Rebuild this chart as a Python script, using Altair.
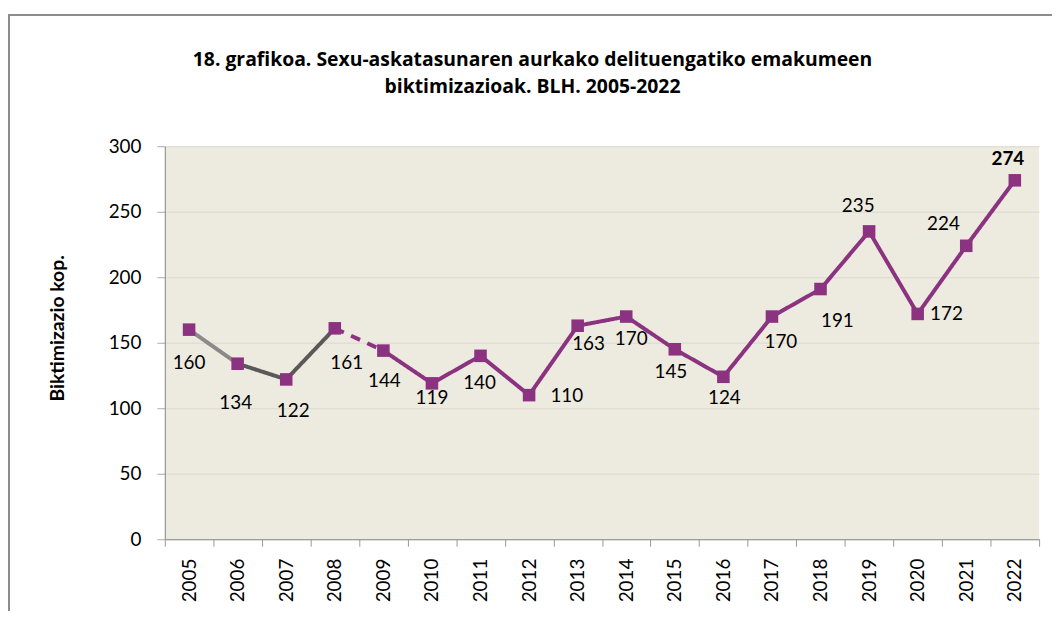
import altair as alt
import pandas as pd

# ---- data ----
years = [str(y) for y in range(2005, 2023)]
values = [160, 134, 122, 161, 144, 119, 140, 110, 163, 170, 145, 124, 170, 191, 235, 172, 224, 274]

# line segments: (from index, to index, style)
segments = [(0, 1, "light"), (1, 3, "dark"), (3, 4, "dashed"), (4, 17, "main")]

# label offsets (style), per point
label_dx = [0, -2, 7, 12, 1, 0, -1, 38, 11, 5, -4, 1, 9, 17, -11, 29, -23, -7]
label_dy = [34, 40, 32, 35, 31, 15, 27, 1, 18, 23, 23, 21, 26, 32, -26, 0, -22, -21]

PURPLE = "#8B3380"
FONT = "Lato"

df = pd.DataFrame({"year": years, "value": values})

rows = []
for k, (a, b, style) in enumerate(segments):
    for i in range(a, b + 1):
        rows.append({"year": years[i], "value": values[i], "seg": k, "style": style})
seg_df = pd.DataFrame(rows)

x = alt.X("year:N", sort=years, title=None,
          scale=alt.Scale(paddingInner=0, paddingOuter=0),
          axis=alt.Axis(labelAngle=-90, labelFont=FONT, labelFontSize=19, labelColor="#000",
                        tickBand="extent", tickColor="#999", tickSize=7, domainColor="#888",
                        labelPadding=12, grid=False, labelAlign="right", labelBaseline="middle"))
y = alt.Y("value:Q", title="Biktimizazio kop.",
          scale=alt.Scale(domain=[0, 300], nice=False),
          axis=alt.Axis(values=[0, 50, 100, 150, 200, 250, 300], labelFont=FONT, labelFontSize=19,
                        labelColor="#000", tickColor="#aaa", tickSize=8, domainColor="#888",
                        gridColor="#dcdad2", labelPadding=16,
                        titleFont=FONT, titleFontSize=19.5, titleFontWeight="bold", titleColor="#000",
                        titleX=-98, titleY=183, titleAlign="center"))

lines = alt.Chart(seg_df).mark_line(strokeWidth=4).encode(
    x=x, y=y, detail="seg:N",
    color=alt.Color("style:N", legend=None,
                    scale=alt.Scale(domain=["light", "dark", "dashed", "main"],
                                    range=["#8a8a8a", "#595959", PURPLE, PURPLE])),
    strokeDash=alt.StrokeDash("style:N", legend=None,
                              scale=alt.Scale(domain=["light", "dark", "dashed", "main"],
                                              range=[[1, 0], [1, 0], [10, 8], [1, 0]])),
)

points = alt.Chart(df).mark_point(shape="square", filled=True, size=160, opacity=1,
                                  color=PURPLE).encode(x=x, y=y)

text_layers = []
for i, yr in enumerate(years):
    text_layers.append(
        alt.Chart(df).transform_filter(alt.datum.year == yr).mark_text(
            font=FONT, fontSize=19, color="#000",
            fontWeight="bold" if i == len(years) - 1 else "normal",
            dx=label_dx[i], dy=label_dy[i]
        ).encode(x=x, y=y, text="value:Q")
    )

frame = alt.Chart(df).mark_rect(fill=None, stroke="#8c8c8c", strokeWidth=1.5, clip=False).encode(
    x=alt.value(-157), x2=alt.value(900), y=alt.value(-132), y2=alt.value(520)
)

chart = alt.layer(frame, lines, points, *text_layers).properties(
    width=881, height=396,
    title=alt.TitleParams(
        text=["18. grafikoa. Sexu-askatasunaren aurkako delituengatiko emakumeen",
              "biktimizazioak. BLH. 2005-2022"],
        font="Open Sans", fontSize=19.5, fontWeight="bold", color="#000",
        anchor="middle", dx=-70, offset=-84, lineHeight=28),
    autosize=alt.AutoSizeParams(type="none"),
    padding={"left": 158, "top": 137, "right": 13, "bottom": 70},
).configure_view(fill="#edeadf", stroke=None).configure_axis(gridWidth=1)

chart.save("out.html", embed_options={"renderer": "svg", "actions": False})
